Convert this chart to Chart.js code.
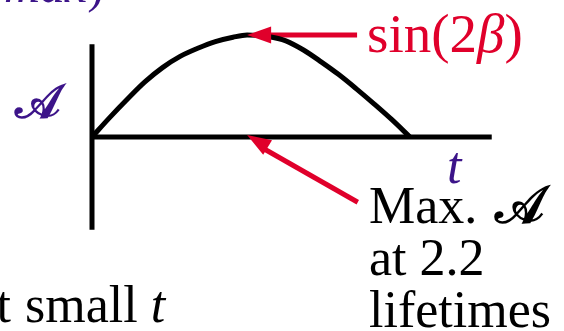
<!DOCTYPE html>
<html>
<head>
<meta charset="utf-8">
<script src="https://cdn.jsdelivr.net/npm/chart.js@4/dist/chart.umd.min.js"></script>
<style>
  html, body { margin: 0; padding: 0; background: #fff; }
  canvas { display: block; }
</style>
</head>
<body>
<canvas id="amp-chart" width="564" height="331"></canvas>
<script>
// Amplitude vs time, in lifetimes (peak normalised to 1)
const tLifetimes = [0, 0.25, 0.5, 0.75, 1.0, 1.25, 1.5, 1.75, 2.0, 2.2, 2.5, 2.75, 3.0, 3.25, 3.5, 3.75, 4.0, 4.25, 4.51];
const amplitude  = [0, 0.19, 0.37, 0.54, 0.68, 0.79, 0.87, 0.935, 0.978, 1.0, 0.985, 0.943, 0.853, 0.737, 0.612, 0.472, 0.325, 0.172, 0];

// axis extents and annotation anchors
const tAxisEnd = 5.67;
const aAxisSpan = 0.91;
const peakT = 2.2;
const peakArrowTail = [3.76, 1.0];
const maxArrowTail = [3.77, -0.64];

const RED = "#e0002b";
const PURPLE = "#3c1489";
const SERIF = "'Liberation Serif', 'DejaVu Serif', serif";

const pts = tLifetimes.map(function (t, i) { return { x: t, y: amplitude[i] }; });

// arrowheads + text labels
const annotate = {
	id: "annotate",
	afterDatasetsDraw: function (chart) {
		var c = chart.ctx, xs = chart.scales.x, ys = chart.scales.y;

		function head(tail, tip) {
			var x0 = xs.getPixelForValue(tail[0]), y0 = ys.getPixelForValue(tail[1]);
			var x1 = xs.getPixelForValue(tip[0]), y1 = ys.getPixelForValue(tip[1]);
			var a = Math.atan2(y1 - y0, x1 - x0), len = 24, hw = 8.5;
			var bx = x1 - len * Math.cos(a), by = y1 - len * Math.sin(a);
			c.save();
			c.fillStyle = RED;
			c.beginPath();
			c.moveTo(x1, y1);
			c.lineTo(bx + hw * Math.sin(a), by - hw * Math.cos(a));
			c.lineTo(bx - hw * Math.sin(a), by + hw * Math.cos(a));
			c.closePath();
			c.fill();
			c.restore();
		}
		head(peakArrowTail, [peakT, 1.0]);
		head(maxArrowTail, [peakT, 0.02]);

		// p = [text, style, size]
		function run(x, y, parts, color, align) {
			c.save();
			c.fillStyle = color;
			c.textBaseline = "alphabetic";
			c.textAlign = align || "left";
			parts.forEach(function (p) {
				c.font = (p[1] ? p[1] + " " : "") + p[2] + "px " + SERIF;
				c.fillText(p[0], x, y);
				x += c.measureText(p[0]).width;
			});
			c.restore();
		}

		run(367, 52, [["sin(2", "", 55], ["\u03B2", "italic", 55], [")", "", 55]], RED);
		run(369, 223, [["Max. ", "", 52]], "#000");
		run(495, 223, [["\uD835\uDC9C", "bold", 52]], "#000");
		run(369, 275, [["at 2.2", "", 52]], "#000");
		run(369, 327, [["lifetimes", "", 52]], "#000");
		run(15, 118, [["\uD835\uDC9C", "bold", 48]], PURPLE);
		run(447, 183, [["t", "italic", 52]], PURPLE);
		run(4, 2, [["max", "italic", 50], [")", "", 50]], PURPLE);
		run(11, 322, [["at", "", 52]], "#000", "right");
		run(25, 322, [["small ", "", 52], ["t", "italic", 52]], "#000");
	}
};

new Chart(document.getElementById("amp-chart").getContext("2d"), {
	type: "line",
	data: {
		datasets: [
			{
				label: "t axis",
				data: [{ x: 0, y: 0 }, { x: tAxisEnd, y: 0 }],
				borderColor: "#000",
				borderWidth: 5,
				pointRadius: 0,
				borderCapStyle: "butt",
			},
			{
				label: "A axis",
				data: [{ x: 0, y: aAxisSpan }, { x: 0, y: -aAxisSpan }],
				borderColor: "#000",
				borderWidth: 5,
				pointRadius: 0,
				borderCapStyle: "butt",
			},
			{
				label: "amplitude",
				data: pts,
				borderColor: "#000",
				borderWidth: 5,
				pointRadius: 0,
				cubicInterpolationMode: "monotone",
			},
			{
				label: "peak arrow",
				data: [{ x: peakArrowTail[0], y: peakArrowTail[1] }, { x: peakT + 0.3, y: 1.0 }],
				borderColor: RED,
				borderWidth: 5,
				pointRadius: 0,
				borderCapStyle: "butt",
			},
			{
				label: "max arrow",
				data: [{ x: maxArrowTail[0], y: maxArrowTail[1] }, { x: peakT + 0.25, y: -0.12 }],
				borderColor: RED,
				borderWidth: 5,
				pointRadius: 0,
				borderCapStyle: "butt",
			},
		],
	},
	options: {
		responsive: false,
		animation: false,
		devicePixelRatio: 1,
		layout: { padding: 0 },
		plugins: { legend: { display: false }, tooltip: { enabled: false } },
		scales: {
			x: { type: "linear", display: false, min: -92 / 70.5, max: 472 / 70.5 },
			y: { type: "linear", display: false, min: -194 / 102, max: 137 / 102 },
		},
	},
	plugins: [annotate],
});
</script>
</body>
</html>
